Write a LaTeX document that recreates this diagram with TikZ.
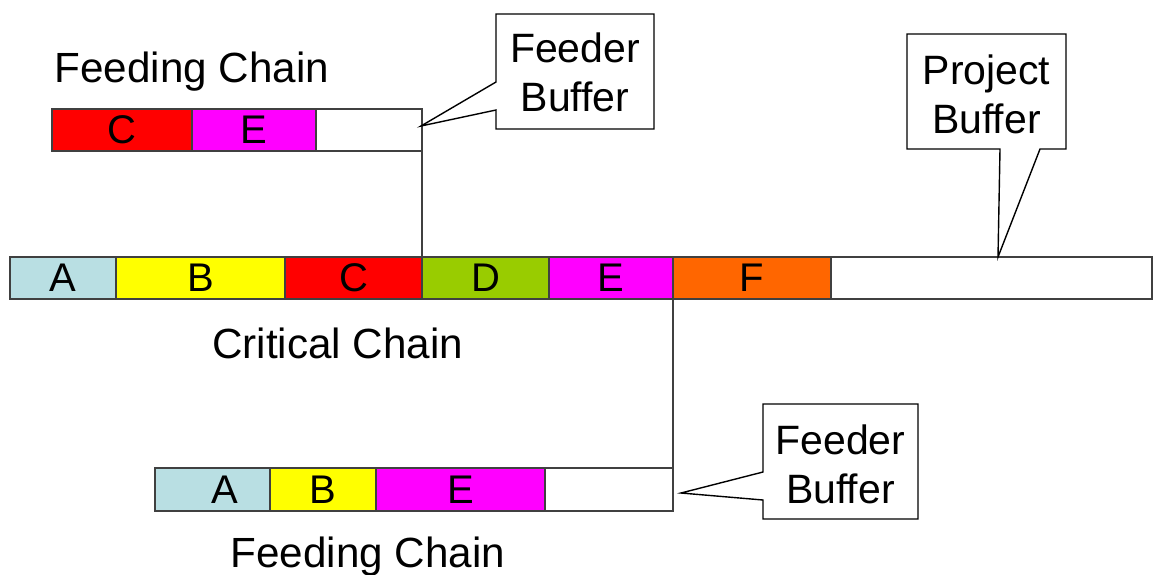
\documentclass[tikz,border=0pt]{standalone}
\usepackage{fontspec}
\setmainfont{Liberation Sans}
\begin{document}
\definecolor{tskA}{RGB}{185,223,227}
\definecolor{tskB}{RGB}{255,255,0}
\definecolor{tskC}{RGB}{255,0,0}
\definecolor{tskD}{RGB}{153,204,0}
\definecolor{tskE}{RGB}{255,0,255}
\definecolor{tskF}{RGB}{255,102,0}
\definecolor{edge}{RGB}{64,64,64}
\begin{tikzpicture}[x=1pt,y=-1pt,
  seg/.style={draw=edge,line width=1.4pt,inner sep=0pt,outer sep=0pt,
    minimum height=42pt,font=\fontsize{40}{48}\selectfont},
  chainlabel/.style={inner sep=0pt,anchor=base west,font=\fontsize{42.2}{49}\selectfont},
  calloutbox/.style={draw=black,line width=1.4pt,fill=white,line join=miter},
  callouttext/.style={inner sep=0pt,align=center,font=\fontsize{41}{49}\selectfont},
  link/.style={draw=edge,line width=1.4pt}]
\useasboundingbox (0,0) rectangle (1153,574);
\fill[white] (0,0) rectangle (1153,574);

% critical chain
\node[seg,fill=tskA,minimum width=106pt] (cA) at (63,278) {A};
\node[seg,fill=tskB,minimum width=169pt] (cB) at (200.5,278) {B};
\node[seg,fill=tskC,minimum width=137pt] (cC) at (353.5,278) {C};
\node[seg,fill=tskD,minimum width=127pt] (cD) at (485.5,278) {D};
\node[seg,fill=tskE,minimum width=124pt] (cE) at (611,278) {E};
\node[seg,fill=tskF,minimum width=158pt] (cF) at (752,278) {F};
\node[seg,fill=white,minimum width=321pt] (cPB) at (991.5,278) {};
\node[chainlabel] (critlbl) at (212,358) {Critical Chain};

% upper feeding chain
\node[seg,fill=tskC,minimum width=140pt] (uC) at (122,130) {C};
\node[seg,fill=tskE,minimum width=124pt] (uE) at (254,130) {E};
\node[seg,fill=white,minimum width=106pt] (uFB) at (369,130) {};
\node[chainlabel] (uplbl) at (54.5,82) {Feeding Chain};

% lower feeding chain
\node[seg,fill=tskA,minimum width=115pt,minimum height=43pt] (lA) at (212.5,489.5) {\hspace*{24pt}A};
\node[seg,fill=tskB,minimum width=106pt,minimum height=43pt] (lB) at (323,489.5) {B};
\node[seg,fill=tskE,minimum width=169pt,minimum height=43pt] (lE) at (460.5,489.5) {E};
\node[seg,fill=white,minimum width=128pt,minimum height=43pt] (lFB) at (609,489.5) {};
\node[chainlabel] (lowlbl) at (230.5,567) {Feeding Chain};

% merge links into the critical chain
\draw[link] (uFB.south east) -- (cD.north west);
\draw[link] (cE.south east) -- (lFB.north east);

% callouts
\coordinate (tipU) at (421,126);
\draw[calloutbox] (496,82) -- (496,14) -- (654,14) -- (654,129) -- (496,129) -- (496,110) -- (tipU) -- cycle;
\node[callouttext] (fbU) at (575,72) {Feeder\\Buffer};

\coordinate (tipP) at (998,257);
\draw[calloutbox] (1000,149) -- (907,149) -- (907,34) -- (1066,34) -- (1066,149) -- (1040,149) -- (tipP) -- cycle;
\node[callouttext] (pb) at (986.5,94) {Project\\Buffer};

\coordinate (tipL) at (681,493);
\draw[calloutbox] (763,472) -- (763,404) -- (918,404) -- (918,519) -- (763,519) -- (763,500) -- (tipL) -- cycle;
\node[callouttext] (fbL) at (840.5,464) {Feeder\\Buffer};
\end{tikzpicture}
\end{document}
